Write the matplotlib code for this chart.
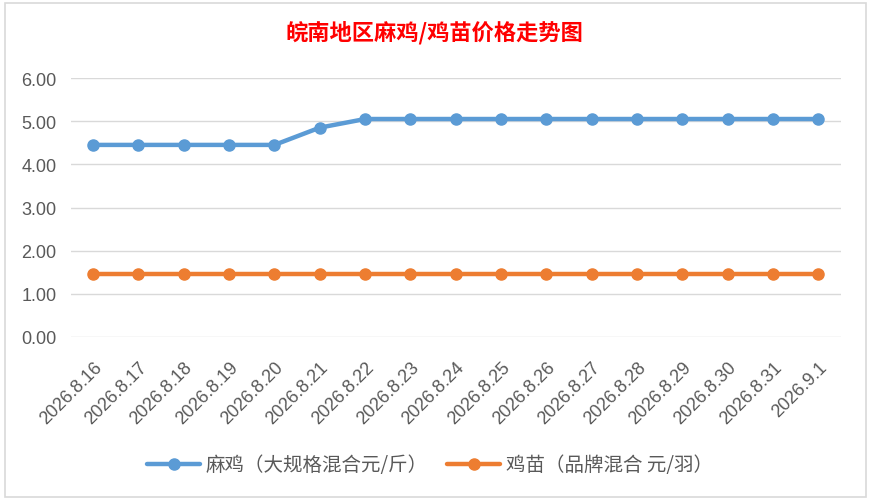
import matplotlib
matplotlib.use("Agg")
import matplotlib.pyplot as plt
from matplotlib.patches import Rectangle

plt.rcParams['font.family'] = ['Noto Sans CJK SC', 'DejaVu Sans']

dates = ["2026.8.16", "2026.8.17", "2026.8.18", "2026.8.19", "2026.8.20", "2026.8.21",
         "2026.8.22", "2026.8.23", "2026.8.24", "2026.8.25", "2026.8.26", "2026.8.27",
         "2026.8.28", "2026.8.29", "2026.8.30", "2026.8.31", "2026.9.1"]
chicken = [4.45, 4.45, 4.45, 4.45, 4.45, 4.85, 5.05, 5.05, 5.05, 5.05, 5.05, 5.05,
           5.05, 5.05, 5.05, 5.05, 5.05]
chick = [1.47] * 17
yticks = [0.00, 1.00, 2.00, 3.00, 4.00, 5.00, 6.00]
title = "皖南地区麻鸡/鸡苗价格走势图"
label1 = "麻鸡（大规格混合元/斤）"
label2 = "鸡苗（品牌混合 元/羽）"

W, H = 871, 502
fig = plt.figure(figsize=(W / 100, H / 100), dpi=100)
fig.patch.set_facecolor("white")
# chart border
fig.patches.append(Rectangle((5 / W, 4 / H), 861 / W, 494 / H, transform=fig.transFigure,
                             fill=False, edgecolor="#D9D9D9", linewidth=1.2))

ax = fig.add_axes([70.5 / W, 1 - 338 / H, (841 - 70.5) / W, (338 - 79) / H])
x = list(range(len(dates)))
ax.plot(x, chicken, color="#5B9BD5", linewidth=3.2, marker="o", markersize=8,
        label=label1, solid_capstyle="round")
ax.plot(x, chick, color="#ED7D31", linewidth=3.2, marker="o", markersize=8,
        label=label2, solid_capstyle="round")
ax.set_xlim(-0.5, len(dates) - 0.5)
ax.set_ylim(0, 6)
ax.set_yticks(yticks)
ax.set_yticklabels([f"{v:.2f}" for v in yticks], fontsize=13, color="#595959",
                   family=["Liberation Sans", "DejaVu Sans"])
ax.set_xticks(x)
ax.set_xticklabels(dates, rotation=45, ha="right", rotation_mode="anchor",
                   fontsize=13, color="#595959", family=["Liberation Sans", "DejaVu Sans"])
ax.grid(axis="y", color="#D9D9D9", linewidth=1)
ax.set_axisbelow(True)
for s in ax.spines.values():
    s.set_visible(False)
ax.tick_params(axis="both", length=0)
ax.tick_params(axis="y", pad=10)
ax.tick_params(axis="x", pad=15)

fig.text(434 / W, 1 - 33 / H, title, color="red", fontsize=16, fontweight="bold",
         ha="center", va="center")

leg = fig.legend(loc="center", bbox_to_anchor=(430 / W, 1 - 466 / H), ncol=2,
                 frameon=False, fontsize=14, handlelength=2.7, columnspacing=1.0,
                 handletextpad=0.3)
for t in leg.get_texts():
    t.set_color("#595959")

fig.savefig("out.png", dpi=100)
